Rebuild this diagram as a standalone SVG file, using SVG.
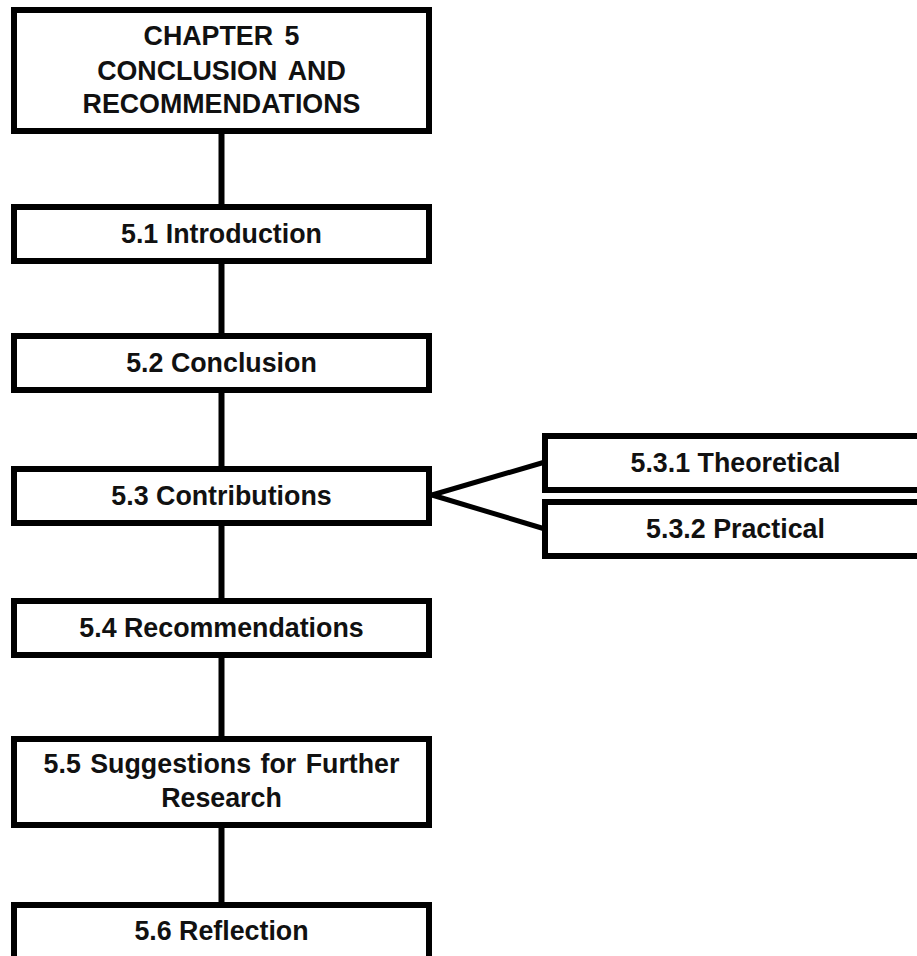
<svg xmlns="http://www.w3.org/2000/svg" width="917" height="956" viewBox="0 0 917 956">
<style>
.box{fill:#fff;stroke:#000;stroke-width:6;stroke-linejoin:miter}
.t{font-family:"Liberation Sans",Arial,sans-serif;font-weight:bold;font-size:26.8px;fill:#111;text-anchor:middle}
.c{stroke:#000;stroke-width:6;fill:none}
.d{stroke:#000;stroke-width:5;fill:none}
</style>
<rect width="917" height="956" fill="#fff"/>
<g id="connectors">
<line class="c" x1="221.5" y1="131" x2="221.5" y2="207"/>
<line class="c" x1="221.5" y1="261" x2="221.5" y2="336"/>
<line class="c" x1="221.5" y1="390" x2="221.5" y2="469"/>
<line class="c" x1="221.5" y1="523" x2="221.5" y2="601"/>
<line class="c" x1="221.5" y1="655" x2="221.5" y2="739"/>
<line class="c" x1="221.5" y1="825" x2="221.5" y2="905"/>
<line class="d" x1="432" y1="495" x2="545" y2="462"/>
<line class="d" x1="432" y1="495" x2="545" y2="529"/>
</g>
<g id="chapter5">
<rect class="box" x="14" y="10" width="415" height="121"/>
<text class="t" x="221.5" y="45" word-spacing="4">CHAPTER 5</text>
<text class="t" x="221.5" y="80" word-spacing="4">CONCLUSION AND</text>
<text class="t" x="221.5" y="113">RECOMMENDATIONS</text>
</g>
<g id="n51">
<rect class="box" x="14" y="207" width="415" height="54"/>
<text class="t" x="221.5" y="243">5.1 Introduction</text>
</g>
<g id="n52">
<rect class="box" x="14" y="336" width="415" height="54"/>
<text class="t" x="221.5" y="372">5.2 Conclusion</text>
</g>
<g id="n53">
<rect class="box" x="14" y="469" width="415" height="54"/>
<text class="t" x="221.5" y="505">5.3 Contributions</text>
</g>
<g id="n531">
<rect class="box" x="545" y="436" width="400" height="54"/>
<text class="t" x="735.5" y="472">5.3.1 Theoretical</text>
</g>
<g id="n532">
<rect class="box" x="545" y="502" width="400" height="54"/>
<text class="t" x="735.5" y="538">5.3.2 Practical</text>
</g>
<g id="n54">
<rect class="box" x="14" y="601" width="415" height="54"/>
<text class="t" x="221.5" y="637">5.4 Recommendations</text>
</g>
<g id="n55">
<rect class="box" x="14" y="739" width="415" height="86"/>
<text class="t" x="221.5" y="773" word-spacing="2">5.5 Suggestions for Further</text>
<text class="t" x="221.5" y="807">Research</text>
</g>
<g id="n56">
<rect class="box" x="14" y="905" width="415" height="54"/>
<text class="t" x="221.5" y="940">5.6 Reflection</text>
</g>
</svg>
